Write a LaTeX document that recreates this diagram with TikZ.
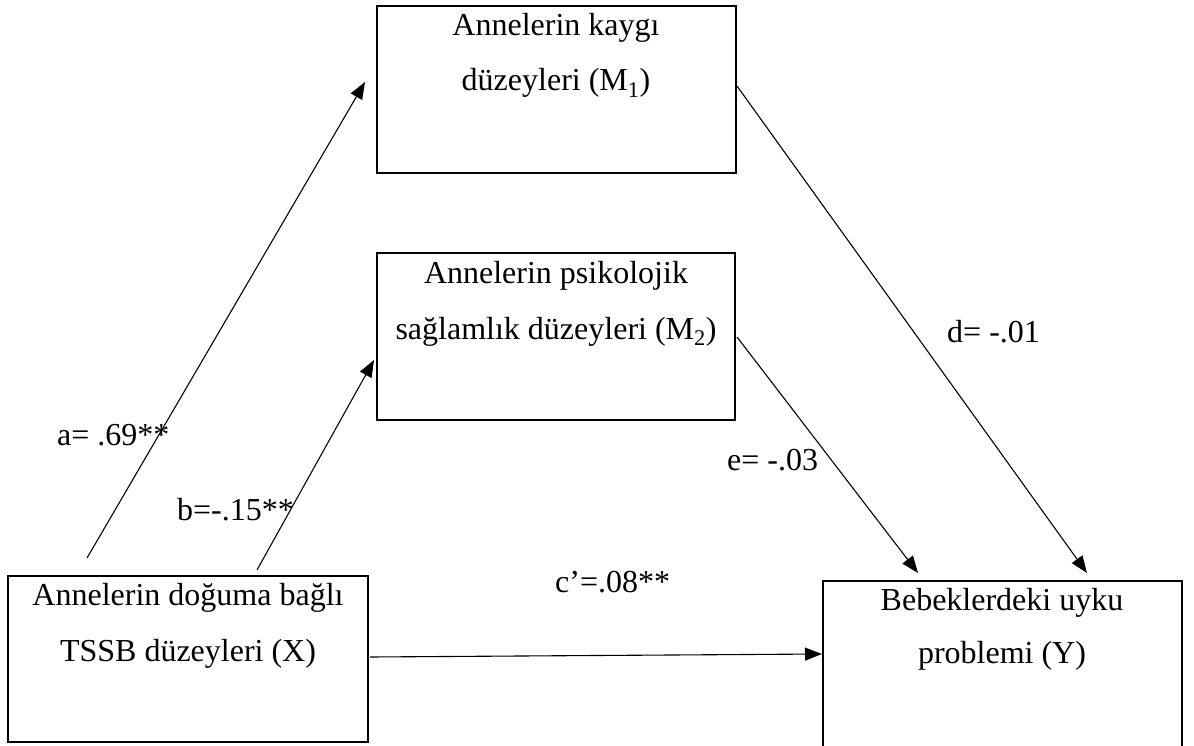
\documentclass[tikz,border=0pt]{standalone}
\usepackage{fontspec}
\setmainfont{Liberation Serif}
\usetikzlibrary{arrows.meta}
\begin{document}
\begin{tikzpicture}[x=1pt,y=-1pt,
  box/.style={draw, line width=2.5pt, inner sep=0pt},
  txt/.style={anchor=base, inner sep=0pt, font=\fontsize{32}{38}\selectfont},
  lbl/.style={anchor=base west, inner sep=0pt, font=\fontsize{32}{38}\selectfont},
  conn/.style={line width=1.1pt, -{Triangle[length=17pt,width=13pt]}}]
\useasboundingbox (0,0) rectangle (1194,746);
\clip (0,0) rectangle (1194,746);
% boxes
\node[box, minimum width=359pt, minimum height=167pt] (m1) at (556.5,89.5) {};
\node[box, minimum width=358pt, minimum height=167pt] (m2) at (556,336.5) {};
\node[box, minimum width=360pt, minimum height=166pt] (x) at (188,659) {};
\node[box, minimum width=359pt, minimum height=171pt] (y) at (1002.5,666.5) {};
% box texts
\node[txt] (m1a) at (556,36) {Annelerin kaygı};
\node[txt] (m1b) at (556,91) {düzeyleri (M\textsubscript{1})};
\node[txt] (m2a) at (556,283) {Annelerin psikolojik};
\node[txt] (m2b) at (556,339) {sağlamlık düzeyleri (M\textsubscript{2})};
\node[txt] (xa) at (188,605) {Annelerin doğuma bağlı};
\node[txt] (xb) at (188,661) {TSSB düzeyleri (X)};
\node[txt] (ya) at (1002,610) {Bebeklerdeki uyku};
\node[txt] (yb) at (1002,663) {problemi (Y)};
% connector end points
\coordinate (a0) at (87,558);
\coordinate (a1) at (365,82);
\coordinate (b0) at (257,570);
\coordinate (b1) at (374,360);
\coordinate (c0) at (370,657);
\coordinate (c1) at (822,654);
\coordinate (d0) at (737,86);
\coordinate (d1) at (1087,573);
\coordinate (e0) at (737,337);
\coordinate (e1) at (918,573);
% connectors
\draw[conn] (a0) -- (a1);
\draw[conn] (b0) -- (b1);
\draw[conn] (c0) -- (c1);
\draw[conn] (d0) -- (d1);
\draw[conn] (e0) -- (e1);
% labels
\node[lbl] (la) at (57,445) {a= .69**};
\node[lbl] (lb) at (177,520) {b=-.15**};
\node[lbl] (lc) at (555,592) {c’=.08**};
\node[lbl] (ld) at (947,342) {d= -.01};
\node[lbl] (le) at (727,470) {e= -.03};
\end{tikzpicture}
\end{document}
